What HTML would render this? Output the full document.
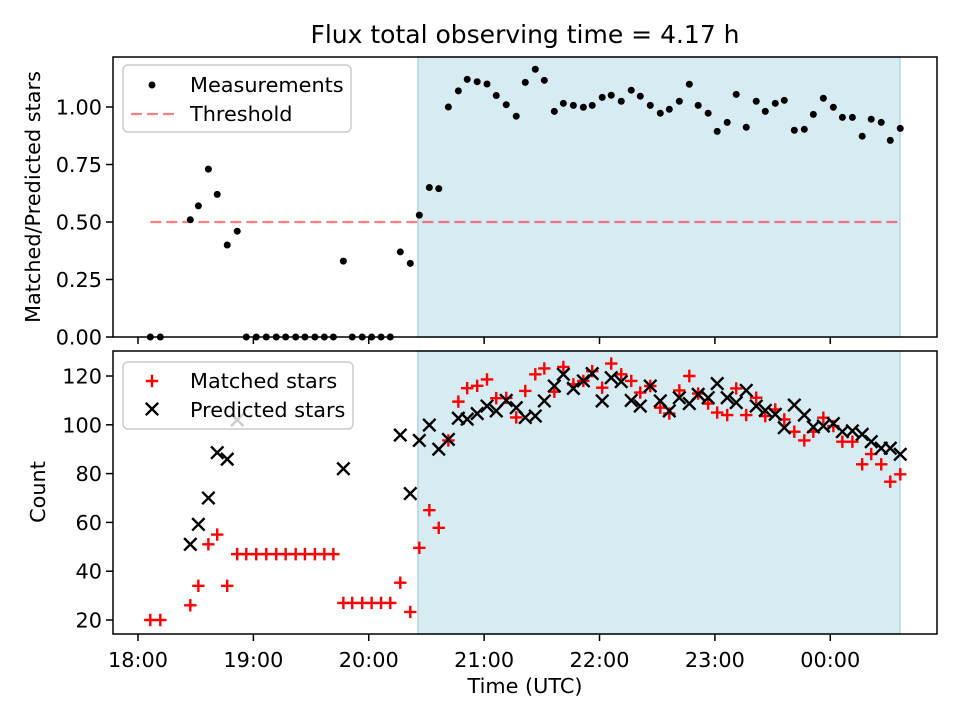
<!DOCTYPE html>
<html><head><meta charset="utf-8"><style>
body{margin:0;background:#fff;}
svg{font-family:"DejaVu Sans","Liberation Sans",sans-serif;}
</style></head><body>
<svg id="chart" width="960" height="720" viewBox="0 0 960 720" xmlns="http://www.w3.org/2000/svg"></svg>
<script>
// Data: minutes after 18:00 UTC
const times = [6.4,11.6,27.2,31.4,36.6,41.2,46.4,51.6,56.3,61.5,66.7,71.9,76.8,82.0,86.8,92.0,96.9,101.6,106.8,111.4,116.6,121.5,126.4,131.2,136.4,141.6,146.3,151.5,156.4,161.4,166.6,171.2,176.4,181.5,186.3,191.5,196.7,201.4,206.6,211.3,216.5,221.2,226.4,231.6,236.2,241.4,246.1,251.3,256.5,261.2,266.4,271.6,276.3,281.5,286.7,291.3,296.5,301.2,306.4,311.1,316.3,321.5,326.2,331.4,336.1,341.3,346.5,351.2,356.4,361.6,366.3,371.5,376.6,381.3,386.5,391.2,396.4];
const ratios = [0,0,0.51,0.57,0.73,0.62,0.40,0.46,0,0,0,0,0,0,0,0,0,0,0.33,0,0,0,0,0,0.37,0.32,0.53,0.65,0.645,1.00,1.07,1.12,1.11,1.10,1.05,1.01,0.96,1.107,1.164,1.116,0.981,1.016,1.007,0.999,1.007,1.042,1.051,1.025,1.073,1.047,1.007,0.973,0.990,1.025,1.099,1.007,0.973,0.894,0.933,1.055,0.912,1.025,0.981,1.016,1.029,0.899,0.903,0.968,1.038,0.999,0.955,0.955,0.873,0.947,0.933,0.855,0.907];
const matched = [20,20,26,34,51,55,34,47,47,47,47,47,47,47,47,47,47,47,27,27,27,27,27,27,35.3,23.3,49.6,65,57.8,93.6,109.5,115,116,118.6,110.9,111,103,113.9,120.7,123.1,113.6,123.7,116.6,118,122,115.2,125.1,120.7,118,113.2,115.9,107,104.6,114.1,120,112.8,108.7,105,104,114.9,104,111.1,103.6,106.3,102.2,97.2,93.6,97.2,102.9,99.5,93.1,93.1,83.8,88,83.8,76.7,79.7];
const predicted = [null,null,51,59.2,70,88.6,85.9,102,null,null,null,null,null,null,null,null,null,null,82,null,null,null,null,null,95.8,71.8,93.6,99.9,90,94,102.7,102.3,104.6,107.7,105.7,110,107,103,103.6,109.8,115.9,120.7,114.9,118,121,109.8,119.3,117.7,110,107.7,115.9,109.8,105.7,111.1,108.7,112.5,111.1,116.9,111.1,109.1,114.1,107.7,105.9,104.3,98.8,108.1,104,99.1,99.5,100.5,97.2,97.5,96.1,93.1,90.4,90.4,87.9];
const threshold = 0.5;
const xTickVals = [0,60,120,180,240,300,360];
const xTickLabels = ["18:00","19:00","20:00","21:00","22:00","23:00","00:00"];
const topTicks = [0,0.25,0.5,0.75,1.0];
const topTickLabels = ["0.00","0.25","0.50","0.75","1.00"];
const botTicks = [20,40,60,80,100,120];
const shadeStart = 145.6, shadeEnd = 396.2;

const NS="http://www.w3.org/2000/svg";
const svg=document.getElementById('chart');
function mk(tag,attrs,parent){const e=document.createElementNS(NS,tag);for(const k in attrs)e.setAttribute(k,attrs[k]);(parent||svg).appendChild(e);return e;}
const L=113,R=937;
const xMin=-13.0,xMax=415.5;
const xs=v=>L+(v-xMin)/(xMax-xMin)*(R-L);
const T1=57,B1=337,T2=351,B2=634;
const yTop=v=>B1-(v-0)/(1.2174)*(B1-T1);
const yBot=v=>B2-(v-14.26)/(130.25-14.26)*(B2-T2);
const FS=20.8;
const M=6.2, MW=2.4;

function axes(T,B,name){
  const g=mk('g',{});
  
  
  const sh=mk('rect',{x:xs(shadeStart),y:T,width:xs(shadeEnd)-xs(shadeStart),height:B-T,fill:'#add8e6','fill-opacity':0.5,stroke:'#add8e6','stroke-width':1.5},g);
  
  
  return g;
}
function frame(T,B,yTicks,yLabels,yf,name,showX){
  const fr=mk('rect',{x:L,y:T,width:R-L,height:B-T,fill:'none',stroke:'#000','stroke-width':1.5});
  
  
  xTickVals.forEach((v,i)=>{
    mk('line',{x1:xs(v),x2:xs(v),y1:B,y2:B+7,stroke:'#000','stroke-width':1.5});
    if(showX){const t=mk('text',{x:xs(v),y:B+33,'font-size':FS,'text-anchor':'middle',fill:'#000'});t.textContent=xTickLabels[i];
      }
  });
  yTicks.forEach((v,i)=>{
    mk('line',{x1:L-7,x2:L,y1:yf(v),y2:yf(v),stroke:'#000','stroke-width':1.5});
    const t=mk('text',{x:L-11,y:yf(v)+7.5,'font-size':FS,'text-anchor':'end',fill:'#000'});t.textContent=yLabels[i];
    
  });
}
axes(T1,B1,'top-panel');
axes(T2,B2,'bottom-panel');

const th=mk('line',{x1:xs(times[0]),x2:xs(times[times.length-1]),y1:yTop(threshold),y2:yTop(threshold),stroke:'#ff0000','stroke-opacity':0.5,'stroke-width':2.2,'stroke-dasharray':'11,5'});



times.forEach((t,i)=>{
  const c=mk('circle',{cx:xs(t),cy:yTop(ratios[i]),r:3.5,fill:'#000'});
  
  
});
times.forEach((t,i)=>{
  if(matched[i]==null)return;
  const x=xs(t),y=yBot(matched[i]);
  const p=mk('path',{d:`M${x-M},${y}H${x+M}M${x},${y-M}V${y+M}`,stroke:'#ff0000','stroke-width':MW,fill:'none'});
  
  
});
times.forEach((t,i)=>{
  if(predicted[i]==null)return;
  const x=xs(t),y=yBot(predicted[i]);
  const p=mk('path',{d:`M${x-M},${y-M}L${x+M},${y+M}M${x-M},${y+M}L${x+M},${y-M}`,stroke:'#000','stroke-width':MW,fill:'none'});
  
  
});

frame(T1,B1,topTicks,topTickLabels,yTop,'top-axes',false);
frame(T2,B2,botTicks,botTicks.map(String),yBot,'bottom-axes',true);

function legend(x,y,w,h,name){
  const r=mk('rect',{x:x,y:y,width:w,height:h,rx:5,fill:'#fff','fill-opacity':0.8,stroke:'#ccc','stroke-width':1.5});
  
  
}
legend(123,65,228,67,'top-legend');
mk('circle',{cx:152,cy:85,r:3.5,fill:'#000'});
let t=mk('text',{x:190,y:92,'font-size':FS,fill:'#000'});t.textContent='Measurements';

mk('line',{x1:131,x2:174,y1:114,y2:114,stroke:'#ff0000','stroke-opacity':0.5,'stroke-width':2.2,'stroke-dasharray':'11,5'});
t=mk('text',{x:190,y:121,'font-size':FS,fill:'#000'});t.textContent='Threshold';


legend(123,362,230,67,'bottom-legend');
mk('path',{d:`M${152-M},381H${152+M}M152,${381-M}V${381+M}`,stroke:'#ff0000','stroke-width':MW});
t=mk('text',{x:190,y:388,'font-size':FS,fill:'#000'});t.textContent='Matched stars';

mk('path',{d:`M${152-M},${409-M}L${152+M},${409+M}M${152-M},${409+M}L${152+M},${409-M}`,stroke:'#000','stroke-width':MW});
t=mk('text',{x:190,y:417,'font-size':FS,fill:'#000'});t.textContent='Predicted stars';


t=mk('text',{x:525,y:43,'font-size':25,'text-anchor':'middle',fill:'#000'});t.textContent='Flux total observing time = 4.17 h';

t=mk('text',{x:0,y:0,'font-size':FS,'text-anchor':'middle',fill:'#000',transform:'translate(40,197) rotate(-90)'});t.textContent='Matched/Predicted stars';

t=mk('text',{x:0,y:0,'font-size':FS,'text-anchor':'middle',fill:'#000',transform:'translate(45,492) rotate(-90)'});t.textContent='Count';

t=mk('text',{x:525,y:693,'font-size':FS,'text-anchor':'middle',fill:'#000'});t.textContent='Time (UTC)';

</script>
</body></html>
